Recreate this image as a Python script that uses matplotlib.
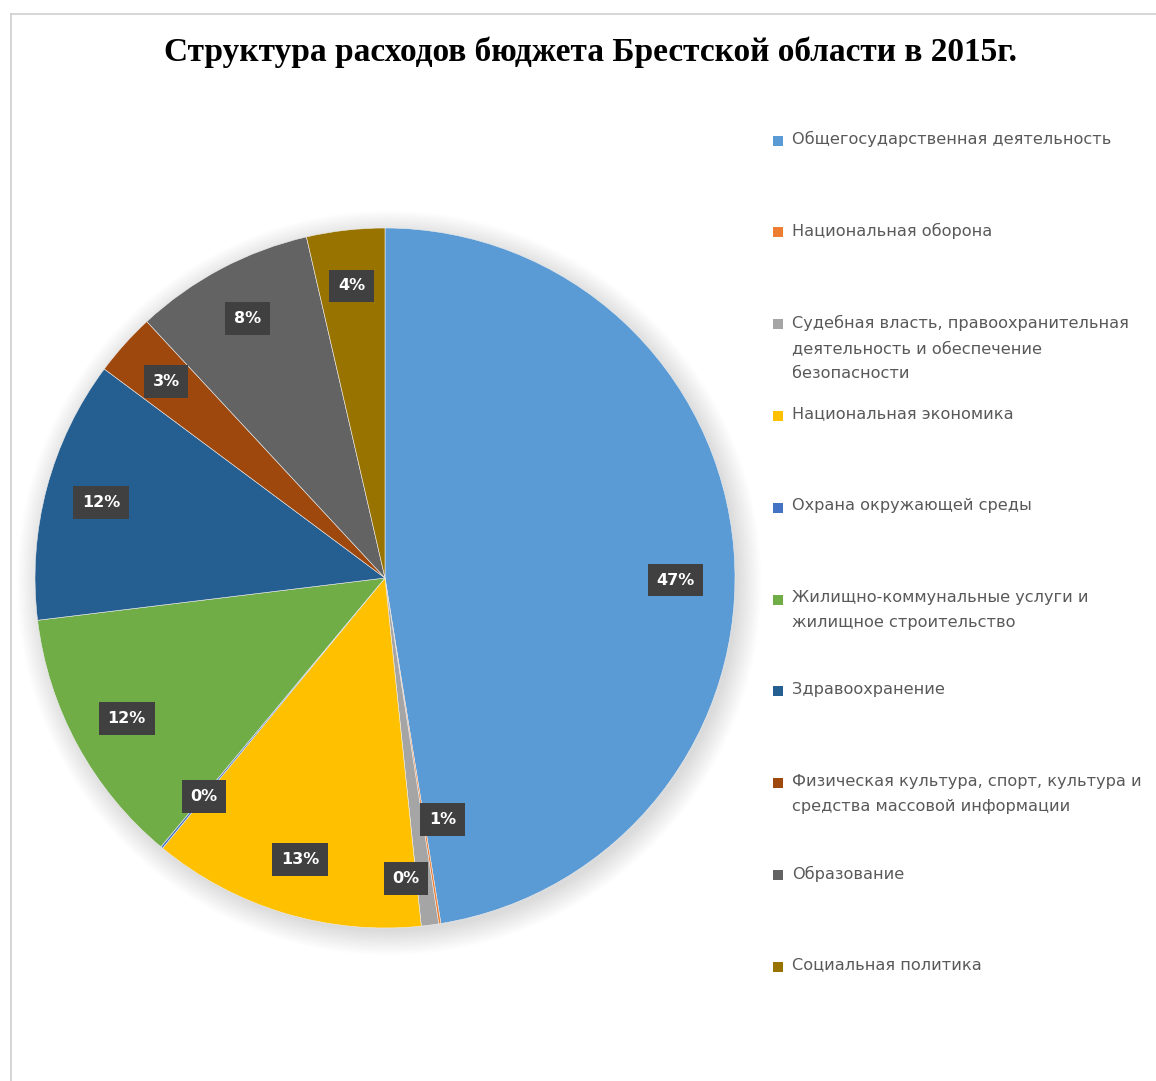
import numpy as np
import matplotlib
matplotlib.use('Agg')
from matplotlib import pyplot as plt
from matplotlib.patches import Circle, Rectangle
from matplotlib.lines import Line2D

categories = [
    'Общегосударственная деятельность',
    'Национальная оборона',
    'Судебная власть, правоохранительная\nдеятельность и обеспечение\nбезопасности',
    'Национальная экономика',
    'Охрана окружающей среды',
    'Жилищно-коммунальные услуги и\nжилищное строительство',
    'Здравоохранение',
    'Физическая культура, спорт, культура и\nсредства массовой информации',
    'Образование',
    'Социальная политика',
]
shares = [47.4, 0.1, 0.8, 12.6, 0.1, 12.0, 12.1, 2.9, 8.3, 3.6]
pct_labels = ['47%', '0%', '1%', '13%', '0%', '12%', '12%', '3%', '8%', '4%']
colors = ['#5B9BD5', '#ED7D31', '#A5A5A5', '#FFC000', '#4472C4',
          '#70AD47', '#255E91', '#9E480E', '#636363', '#997300']
# сдвиг подписей: (поворот в градусах, доля радиуса)
label_fix = {0: (5.0, 0.83), 1: (5, 0.86), 2: (-6, 0.71), 4: (0, 0.81)}

W, H = 1156, 1081
fig = plt.figure(figsize=(W / 100, H / 100), dpi=100)
fig.patch.set_facecolor('white')

# рамка области диаграммы
fig.add_artist(Line2D([11 / W, 11 / W], [0, 1 - 14 / H], color='#CFCFCF', lw=1.2))
fig.add_artist(Line2D([11 / W, 1], [1 - 14 / H, 1 - 14 / H], color='#CFCFCF', lw=1.2))

cx, cy, r = 385, 578, 350
ax = fig.add_axes([(cx - r) / W, 1 - (cy + r) / H, 2 * r / W, 2 * r / H])

# мягкая тень
for k in range(18):
    ax.add_patch(Circle((0.012, -0.014), 0.995 + 0.004 * k, color='#808080',
                        alpha=0.016, lw=0, zorder=0, clip_on=False))

wedges, _ = ax.pie(shares, colors=colors, startangle=90, counterclock=False,
                   radius=1.0, wedgeprops=dict(linewidth=0.4, edgecolor='#eeeeee'),
                   frame=True)
ax.set_xlim(-1, 1)
ax.set_ylim(-1, 1)
ax.set_aspect('equal')
ax.axis('off')

for i, w in enumerate(wedges):
    mid = np.deg2rad((w.theta1 + w.theta2) / 2)
    dist = 0.84
    if i in label_fix:
        dth, dist = label_fix[i]
        mid = mid - np.deg2rad(dth)
    x, y = dist * np.cos(mid), dist * np.sin(mid)
    ax.text(x, y, pct_labels[i], ha='center', va='center', color='white',
            fontsize=11.5, fontweight='bold', family='DejaVu Sans', zorder=5,
            bbox=dict(boxstyle='square,pad=0.55', fc='#404040', ec='none'))

fig.text(590 / W, 1 - 52 / H, 'Структура расходов бюджета Брестской области в 2015г.',
         ha='center', va='center', fontsize=24, fontweight='bold',
         family='Liberation Serif', color='black')

# легенда
for i, (name, col) in enumerate(zip(categories, colors)):
    ytop = 140 + i * 91.8
    fig.add_artist(Rectangle((773 / W, 1 - (ytop + 5.5) / H), 10 / W, 10 / H,
                             transform=fig.transFigure, color=col, lw=0))
    fig.text(792 / W, 1 - (ytop - 9) / H, name, ha='left', va='top',
             fontsize=11.6, family='DejaVu Sans', color='#595959', linespacing=1.85)

fig.savefig('out.png', dpi=100)
